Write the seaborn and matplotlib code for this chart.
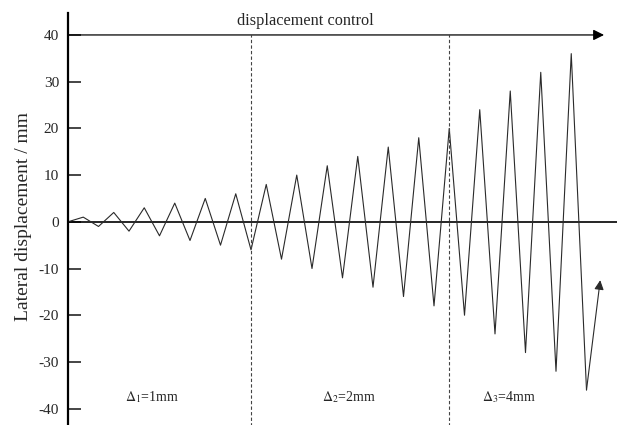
import matplotlib
matplotlib.use("Agg")
import matplotlib.pyplot as plt
import seaborn as sns
import pandas as pd

# Loading history: cycle number vs. target lateral displacement (mm)
cycle_steps = list(range(0, 35))
displacement = [0, 1, -1, 2, -2, 3, -3, 4, -4, 5, -5, 6, -6,
                8, -8, 10, -10, 12, -12, 14, -14, 16, -16, 18, -18,
                20, -20, 24, -24, 28, -28, 32, -32, 36, -36]
# final reload leg, drawn as an arrow
final_leg_x = [34, 34.9]
final_leg_y = [-36, -12.5]

# stage boundaries and stage labels
stage_bounds = [12, 25]
stage_labels = ["$\\Delta_{1}$=1mm", "$\\Delta_{2}$=2mm", "$\\Delta_{3}$=4mm"]
stage_label_x = [5.5, 18.4, 28.9]

y_ticks = [-40, -30, -20, -10, 0, 10, 20, 30, 40]

sns.set_style("white")
plt.rcParams["font.family"] = ["Liberation Serif", "DejaVu Serif"]
plt.rcParams["mathtext.fontset"] = "stix"
plt.rcParams["axes.unicode_minus"] = False

df = pd.DataFrame({"step": cycle_steps, "disp": displacement})

fig = plt.figure(figsize=(6.17, 4.25), dpi=100)
ax = fig.add_axes([68 / 617, 0.0, 549 / 617, 412 / 425])

sns.lineplot(data=df, x="step", y="disp", ax=ax, color="#2a2a2a",
             linewidth=0.8, sort=False)

ax.annotate("", xy=(final_leg_x[1], final_leg_y[1]),
            xytext=(final_leg_x[0], final_leg_y[0]),
            arrowprops=dict(arrowstyle="-|>", color="#2a2a2a", lw=0.8,
                            mutation_scale=14, shrinkA=0, shrinkB=0))

# zero reference line
ax.axhline(0, color="black", linewidth=1.2, zorder=1)

# displacement-control arrow along the top
ax.annotate("", xy=(35.15, 40), xytext=(0, 40),
            arrowprops=dict(arrowstyle="-|>", color="black", lw=0.9,
                            mutation_scale=16, shrinkA=0, shrinkB=0))
ax.text(15.57, 43.0, "displacement control", ha="center", va="center",
        fontsize=11.7)

for b in stage_bounds:
    ax.plot([b, b], [-50, 40], color="#444444", linestyle=(0, (3, 2)),
            linewidth=0.8)

for lx, lab in zip(stage_label_x, stage_labels):
    ax.text(lx, -37.6, lab, ha="center", va="center", fontsize=10)

ax.set_xlim(0, 36)
ax.set_ylim(-43.5, 44.7)
ax.set_yticks(y_ticks)
ax.set_yticklabels([str(t) for t in y_ticks], fontsize=11)
ax.set_xticks([])
ax.set_xlabel("")
ax.set_ylabel("Lateral displacement / mm", fontsize=14)
ax.yaxis.set_label_coords(-0.066, 0.507)
ax.tick_params(axis="y", direction="in", length=9, width=1.2, pad=6.5,
               left=True)

for side in ["top", "right", "bottom"]:
    ax.spines[side].set_visible(False)
ax.spines["left"].set_linewidth(1.6)
ax.spines["left"].set_color("black")

fig.savefig("out.png", dpi=100)
